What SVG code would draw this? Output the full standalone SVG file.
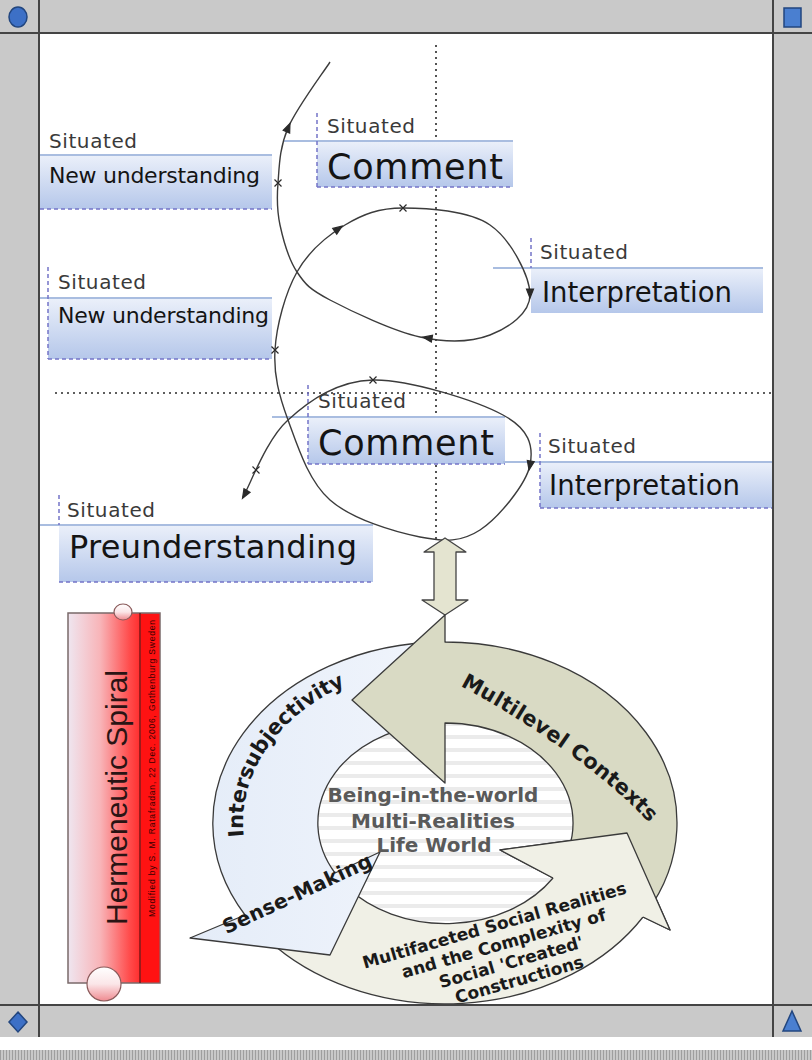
<svg xmlns="http://www.w3.org/2000/svg" width="812" height="1060" viewBox="0 0 812 1060">
<defs>
  <linearGradient id="boxg" x1="0" y1="0" x2="0" y2="1">
    <stop offset="0" stop-color="#ebf0fa"/>
    <stop offset="1" stop-color="#b5c7ea"/>
  </linearGradient>
  <linearGradient id="scrollg" gradientUnits="userSpaceOnUse" x1="68" y1="0" x2="140" y2="0">
    <stop offset="0" stop-color="#efe6f0"/>
    <stop offset="0.45" stop-color="#f8b4b8"/>
    <stop offset="0.85" stop-color="#ff4d4d"/>
    <stop offset="1" stop-color="#ff2e2e"/>
  </linearGradient>
  <linearGradient id="knobg" x1="0" y1="0" x2="0" y2="1">
    <stop offset="0" stop-color="#ffffff"/>
    <stop offset="0.5" stop-color="#fbe6e8"/>
    <stop offset="1" stop-color="#ef8a90"/>
  </linearGradient>
  <linearGradient id="blueg" x1="0" y1="0" x2="1" y2="0">
    <stop offset="0" stop-color="#e4ecf8"/>
    <stop offset="1" stop-color="#f1f5fc"/>
  </linearGradient>
  <pattern id="stripes" width="8" height="13" patternUnits="userSpaceOnUse">
    <rect width="8" height="13" fill="#ffffff"/>
    <rect y="7" width="8" height="4" fill="#ebebeb"/>
  </pattern>
  <pattern id="hatch" width="3" height="3" patternUnits="userSpaceOnUse">
    <rect width="3" height="3" fill="#c8c8c8"/>
    <rect width="1" height="3" fill="#9e9e9e"/>
  </pattern>
  <path id="ah" d="M5,0 L-4,-3.5 L-4,3.5 Z"/>
  <path id="xm" d="M-3.5,-3.5 L3.5,3.5 M-3.5,3.5 L3.5,-3.5"/>
  <path id="pInter" d="M243.8,836.8 A202 158 0 0 1 445,665"/>
  <path id="pMulti" d="M455,683 C510,712 605,770 660,835"/>
</defs>
<style>
  .sit{font-family:"DejaVu Sans",Verdana,sans-serif;font-size:20px;fill:#3a3a3a}
  .lbl{font-family:"DejaVu Sans",Verdana,sans-serif;fill:#141414}
  .box{fill:url(#boxg)}
  .topline{stroke:#a9bde0;stroke-width:2}
  .dash{stroke:#7474c8;stroke-width:1.5;stroke-dasharray:4 3;fill:none}
  .guide{stroke:#2a2a2a;stroke-width:1.6;stroke-dasharray:2 4;fill:none}
  .spiral{fill:none;stroke:#3c3c3c;stroke-width:1.4}
  .ring{stroke:#3a3a3a;stroke-width:1.3;stroke-linejoin:round}
  .bold{font-family:"DejaVu Sans",Verdana,sans-serif;font-weight:bold}
  .frame{stroke:#444444;stroke-width:2}
  .mk{fill:#2a2a2a;stroke:#2a2a2a;stroke-width:1.2}
</style>
<rect width="812" height="1060" fill="#ffffff"/>

<g id="guides">
  <line class="guide" x1="436" y1="45" x2="436" y2="540"/>
  <line class="guide" x1="55" y1="393" x2="772" y2="393"/>
</g>

<g id="box-new-understanding-1">
  <rect class="box" x="40" y="155" width="232" height="54"/>
  <line class="topline" x1="40" y1="155" x2="272" y2="155"/>
  <line class="dash" x1="40" y1="209" x2="272" y2="209"/>
  <text class="sit" x="49" y="148" textLength="88">Situated</text>
  <text class="lbl" x="49" y="183" font-size="22" textLength="211">New understanding</text>
</g>
<g id="box-comment-1">
  <rect class="box" x="317" y="141" width="196" height="46"/>
  <line class="topline" x1="283" y1="141" x2="513" y2="141"/>
  <line class="dash" x1="317" y1="113" x2="317" y2="187"/>
  <line class="dash" x1="317" y1="187" x2="513" y2="187"/>
  <text class="sit" x="327" y="133" textLength="88">Situated</text>
  <text class="lbl" x="327" y="179" font-size="35" textLength="176">Comment</text>
</g>
<g id="box-interpretation-1">
  <rect class="box" x="531" y="268" width="232" height="45"/>
  <line class="topline" x1="493" y1="268" x2="763" y2="268"/>
  <line class="dash" x1="531" y1="238" x2="531" y2="268"/>
  <text class="sit" x="540" y="259" textLength="88">Situated</text>
  <text class="lbl" x="542" y="302" font-size="27.5" textLength="190">Interpretation</text>
</g>
<g id="box-new-understanding-2">
  <rect class="box" x="48" y="298" width="224" height="61"/>
  <line class="topline" x1="40" y1="298" x2="272" y2="298"/>
  <line class="dash" x1="48" y1="267" x2="48" y2="359"/>
  <line class="dash" x1="48" y1="359" x2="272" y2="359"/>
  <text class="sit" x="58" y="289" textLength="88">Situated</text>
  <text class="lbl" x="58" y="323" font-size="22" textLength="211">New understanding</text>
</g>
<g id="box-comment-2">
  <rect class="box" x="308" y="417" width="197" height="47"/>
  <line class="topline" x1="272" y1="417" x2="505" y2="417"/>
  <line class="dash" x1="308" y1="385" x2="308" y2="464"/>
  <line class="dash" x1="308" y1="464" x2="505" y2="464"/>
  <text class="sit" x="318" y="408" textLength="88">Situated</text>
  <text class="lbl" x="318" y="455" font-size="35" textLength="176">Comment</text>
</g>
<g id="box-interpretation-2">
  <rect class="box" x="540" y="462" width="232" height="46"/>
  <line class="topline" x1="503" y1="462" x2="772" y2="462"/>
  <line class="dash" x1="540" y1="433" x2="540" y2="508"/>
  <line class="dash" x1="540" y1="508" x2="772" y2="508"/>
  <text class="sit" x="548" y="453" textLength="88">Situated</text>
  <text class="lbl" x="549" y="495" font-size="27.5" textLength="191">Interpretation</text>
</g>
<g id="box-preunderstanding">
  <rect class="box" x="59" y="525" width="314" height="57"/>
  <line class="topline" x1="40" y1="525" x2="373" y2="525"/>
  <line class="dash" x1="59" y1="495" x2="59" y2="525"/>
  <line class="dash" x1="59" y1="582" x2="373" y2="582"/>
  <text class="sit" x="67" y="517" textLength="88">Situated</text>
  <text class="lbl" x="69" y="558" font-size="32" textLength="288">Preunderstanding</text>
</g>

<g id="connectors">
  <path id="spiral" class="spiral" d="M243,497 C250.5,484.2 266.3,439.5 288,420 C309.7,400.5 337.2,380.8 373,380 C408.8,379.2 476.8,400.8 503,415 C529.2,429.2 533.8,445.8 530,465 C526.2,484.2 498.3,518 480,530 C461.7,542 445,542 420,537 C395,532 352,519.5 330,500 C308,480.5 297.2,445 288,420 C278.8,395 273.5,374.7 275,350 C276.5,325.3 285.3,292.8 297,272 C308.7,251.2 327.3,235.7 345,225 C362.7,214.3 378.8,208 403,208 C427.2,208 468.8,210.5 490,225 C511.2,239.5 530,276.7 530,295 C530,313.3 508.3,328 490,335 C471.7,342 446.7,342.8 420,337 C393.3,331.2 350.5,310.8 330,300 C309.5,289.2 305.3,284.5 297,272 C288.7,259.5 283.2,239.8 280,225 C276.8,210.2 276.7,199.2 278,183 C279.3,166.8 279.3,148.2 288,128 C296.7,107.8 323,73 330,62"/>
  <use href="#ah" class="mk" transform="translate(288,128) rotate(-67)"/>
  <use href="#ah" class="mk" transform="translate(338,229) rotate(-35)"/>
  <use href="#ah" class="mk" transform="translate(530,293) rotate(90)"/>
  <use href="#ah" class="mk" transform="translate(428,338) rotate(190)"/>
  <use href="#ah" class="mk" transform="translate(530,465) rotate(101)"/>
  <use href="#ah" class="mk" transform="translate(245,494) rotate(120)"/>
  <use href="#xm" class="mk" transform="translate(278,183)"/>
  <use href="#xm" class="mk" transform="translate(403,208)"/>
  <use href="#xm" class="mk" transform="translate(275,350)"/>
  <use href="#xm" class="mk" transform="translate(373,380)"/>
  <use href="#xm" class="mk" transform="translate(256,470)"/>
  <path id="double-arrow" d="M445,538 L466,552 L456,552 L456,600 L468,600 L445,615 L422,600 L434,600 L434,552 L424,552 Z" fill="#e4e4d0" stroke="#444" stroke-width="1.3" stroke-linejoin="round"/>
</g>

<g id="cycle">
  <ellipse cx="445" cy="823" rx="128" ry="100" fill="url(#stripes)"/>
  <path id="arrow-multifaceted" class="ring" fill="#f0f0e6" d="M267.3,939.3 A232 181 0 0 0 643,917 L670,930 L627,833 L500,850 L553,878 A128 100 0 0 1 347,887.3 Z"/>
  <path id="arrow-intersubjectivity" class="ring" fill="url(#blueg)" d="M445,642 A232 181 0 0 0 245,915 L190,938 L330,955 L380,852 L335,873 A128 100 0 0 1 445,723 Z"/>
  <path id="arrow-multilevel" class="ring" fill="#d9dac4" d="M645.9,913.5 A232 181 0 0 0 445,642 L445,615 L352,700 L445,783 L445,723 A128 100 0 0 1 555.9,873 Z"/>
  <path d="M643,917 L670,930 L627,833 L500,850 L553,878 Z" fill="#f0f0e6"/>
  <path class="ring" fill="none" d="M643,917 L670,930 L627,833 L500,850 L553,878"/>

  <text class="bold" font-size="21" fill="#1a1a1a"><textPath href="#pInter" textLength="195">Intersubjectivity</textPath></text>
  <text class="bold" font-size="21" fill="#1a1a1a"><textPath href="#pMulti" startOffset="6" textLength="120">Multilevel</textPath></text>
  <text class="bold" font-size="21" fill="#1a1a1a"><textPath href="#pMulti" startOffset="134" textLength="106">Contexts</textPath></text>
  <text class="bold" font-size="20" fill="#1a1a1a" text-anchor="middle" textLength="162" transform="translate(300,900) rotate(-25)">Sense-Making</text>
  <g class="bold" font-size="17" fill="#1a1a1a" text-anchor="middle" transform="translate(496,931) rotate(-16)">
    <text x="0" y="0">Multifaceted Social Realities</text>
    <text x="4" y="20">and the Complexity of</text>
    <text x="6" y="40">Social 'Created'</text>
    <text x="9" y="59">Constructions</text>
  </g>
  <g class="bold" font-size="20" fill="#5a5a5a" text-anchor="middle">
    <text x="433" y="802">Being-in-the-world</text>
    <text x="433" y="828">Multi-Realities</text>
    <text x="434" y="852">Life World</text>
  </g>
</g>

<g id="scroll">
  <rect x="68" y="613" width="92" height="370" fill="url(#scrollg)" stroke="#7a6a6a" stroke-width="1.5"/>
  <rect x="141" y="614" width="18.3" height="368.3" fill="#ff1212"/>
  <line x1="140" y1="613" x2="140" y2="983" stroke="#5a1010" stroke-width="1.2"/>
  <ellipse cx="123" cy="612" rx="9" ry="8" fill="url(#knobg)" stroke="#8a5a5a" stroke-width="1.2"/>
  <circle cx="104" cy="984" r="17" fill="url(#knobg)" stroke="#8a5a5a" stroke-width="1.2"/>
  <text font-family="'Liberation Sans',Arial,sans-serif" font-size="30" fill="#2a1414" transform="translate(127,925) rotate(-90)" textLength="255">Hermeneutic Spiral</text>
  <text font-family="'Liberation Sans',Arial,sans-serif" font-size="8.5" fill="#3a0000" transform="translate(155,917) rotate(-90)" textLength="297">Modified by S. M. Ratafradan, 22 Dec. 2006, Gothenburg Sweden</text>
</g>

<g id="frame">
  <rect x="0" y="0" width="812" height="33" fill="#c9c9c9"/>
  <rect x="0" y="0" width="39" height="1037" fill="#c9c9c9"/>
  <rect x="773" y="0" width="39" height="1037" fill="#c9c9c9"/>
  <rect x="0" y="1005" width="812" height="32" fill="#c9c9c9"/>
  <rect x="0" y="1050" width="812" height="10" fill="url(#hatch)"/>
  <line class="frame" x1="0" y1="33" x2="812" y2="33"/>
  <line class="frame" x1="0" y1="1005" x2="812" y2="1005"/>
  <line class="frame" x1="39" y1="0" x2="39" y2="1037"/>
  <line class="frame" x1="773" y1="0" x2="773" y2="1037"/>
  <ellipse cx="18" cy="17" rx="9" ry="10" fill="#3d70c6" stroke="#22467f" stroke-width="1.5"/>
  <rect x="784" y="8" width="17" height="19" fill="#4a7fd0" stroke="#22467f" stroke-width="1.5"/>
  <path d="M18,1012 L27,1022 L18,1032 L9,1022 Z" fill="#3d70c6" stroke="#22467f" stroke-width="1.5"/>
  <path d="M792,1011 L801,1031 L783,1031 Z" fill="#4a7fd0" stroke="#22467f" stroke-width="1.5"/>
</g>
</svg>
